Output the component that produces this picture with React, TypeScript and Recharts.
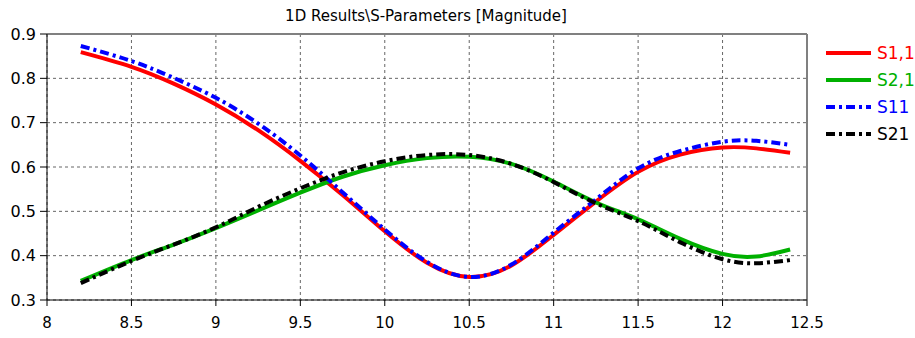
import { CartesianGrid, Line, LineChart, ReferenceLine, XAxis, YAxis } from 'recharts';

const freq = [8.2, 8.5, 8.75, 9.0, 9.25, 9.5, 9.75, 10.0, 10.25, 10.5, 10.75, 11.0, 11.25, 11.5, 11.75, 12.0, 12.2, 12.4];
const s11Solid = [0.859, 0.826, 0.788, 0.741, 0.683, 0.614, 0.537, 0.455, 0.384, 0.352, 0.378, 0.447, 0.522, 0.589, 0.628, 0.644, 0.642, 0.632];
const s21Solid = [0.343, 0.39, 0.425, 0.462, 0.502, 0.542, 0.578, 0.604, 0.62, 0.623, 0.607, 0.567, 0.52, 0.482, 0.438, 0.404, 0.398, 0.414];
const s11Dash = [0.873, 0.839, 0.801, 0.756, 0.698, 0.626, 0.543, 0.459, 0.386, 0.352, 0.38, 0.452, 0.527, 0.597, 0.636, 0.657, 0.659, 0.65];
const s21Dash = [0.338, 0.388, 0.425, 0.464, 0.51, 0.552, 0.588, 0.613, 0.627, 0.627, 0.607, 0.566, 0.518, 0.478, 0.43, 0.392, 0.383, 0.39];

const xTicks = [8, 8.5, 9, 9.5, 10, 10.5, 11, 11.5, 12, 12.5];
const yTicks = [0.3, 0.4, 0.5, 0.6, 0.7, 0.8, 0.9];

const data = freq.map((f, i) => ({
  f,
  a: s11Solid[i],
  b: s21Solid[i],
  c: s11Dash[i],
  d: s21Dash[i],
}));

const FONT = '"DejaVu Sans", Verdana, sans-serif';
const DASH_DOT = '9 4 3 4';

const legendItems = [
  { name: 'S1,1', color: '#ff0000', dash: undefined },
  { name: 'S2,1', color: '#00b000', dash: undefined },
  { name: 'S11', color: '#0000ff', dash: DASH_DOT },
  { name: 'S21', color: '#000000', dash: DASH_DOT },
];

export default function App() {
  return (
    <div style={{ position: 'absolute', left: 0, top: 0, width: 915, height: 338, background: '#fff', fontFamily: FONT }}>
      <div style={{ position: 'absolute', left: 0, width: 852, top: 7, textAlign: 'center', fontSize: 15, color: '#000' }}>
        1D Results\S-Parameters [Magnitude]
      </div>
      <LineChart width={915} height={338} data={data} margin={{ top: 34, right: 108, left: 7, bottom: 8 }}>
        <CartesianGrid stroke="#666" strokeDasharray="3 3" />
        <XAxis
          dataKey="f"
          type="number"
          domain={[8, 12.5]}
          ticks={xTicks}
          height={30}
          tickSize={6}
          tickMargin={11}
          stroke="#000"
          tick={{ fill: '#000', fontSize: 15, fontFamily: FONT }}
        />
        <YAxis
          type="number"
          domain={[0.3, 0.9]}
          ticks={yTicks}
          width={40}
          tickSize={7}
          tickMargin={4}
          stroke="#000"
          tickFormatter={(v: number) => v.toFixed(1)}
          tick={{ fill: '#000', fontSize: 16, fontFamily: FONT }}
        />
        <ReferenceLine y={0.9} stroke="#808080" strokeWidth={2} />
        <ReferenceLine x={12.5} stroke="#808080" strokeWidth={2} />
        <Line type="natural" dataKey="a" stroke="#ff0000" strokeWidth={4} dot={false} isAnimationActive={false} />
        <Line type="natural" dataKey="b" stroke="#00b000" strokeWidth={4} dot={false} isAnimationActive={false} />
        <Line type="natural" dataKey="c" stroke="#0000ff" strokeWidth={4} strokeDasharray={DASH_DOT} dot={false} isAnimationActive={false} />
        <Line type="natural" dataKey="d" stroke="#000000" strokeWidth={4} strokeDasharray={DASH_DOT} dot={false} isAnimationActive={false} />
      </LineChart>
      <div style={{ position: 'absolute', left: 824, top: 39 }}>
        {legendItems.map((item) => (
          <div key={item.name} style={{ display: 'flex', alignItems: 'center', height: 27 }}>
            <svg width={48} height={10}>
              <line x1={2} y1={5} x2={47} y2={5} stroke={item.color} strokeWidth={4} strokeDasharray={item.dash} />
            </svg>
            <span style={{ marginLeft: 5, fontSize: 17, color: item.color }}>{item.name}</span>
          </div>
        ))}
      </div>
    </div>
  );
}
